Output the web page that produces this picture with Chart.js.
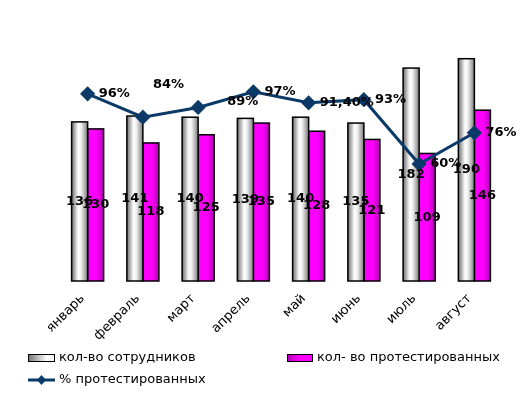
<!DOCTYPE html>
<html>
<head>
<meta charset="utf-8">
<script src="https://cdn.jsdelivr.net/npm/chart.js@4/dist/chart.umd.min.js"></script>
<style>
html,body{margin:0;padding:0;background:#fff;}
#wrap{width:529px;height:405px;}
</style>
</head>
<body>
<div id="wrap"><canvas id="c" width="529" height="405"></canvas></div>
<script>
const months = ["январь","февраль","март","апрель","май","июнь","июль","август"];
const employees = [136,141,140,139,140,135,182,190];
const tested = [130,118,125,135,128,121,109,146];
const pctTested = [0.96,0.84,0.89,0.97,0.914,0.93,0.60,0.76];
const pctLabels = ["96%","84%","89%","97%","91,40%","93%","60%","76%"];
const seriesNames = ["кол-во сотрудников","кол- во протестированных","% протестированных"];

const LINE_COLOR = "#0b3a68";
const FONT = "'DejaVu Sans', Verdana, sans-serif";
// label offsets from point (px), default to the right
const pctOffsets = [[11,0],[10,-33],[29,-6],[11,0],[11,0],[11,0],[11,0],[11,0]];

function grayGrad(ctx, x0, x1){
  const g = ctx.createLinearGradient(x0,0,x1,0);
  g.addColorStop(0,"#6c6c6c");
  g.addColorStop(0.42,"#ffffff");
  g.addColorStop(0.6,"#eeeeee");
  g.addColorStop(1,"#7c7c7c");
  return g;
}
function magGrad(ctx, x0, x1){
  const g = ctx.createLinearGradient(x0,0,x1,0);
  g.addColorStop(0,"#ff00ff");
  g.addColorStop(0.55,"#ff00ff");
  g.addColorStop(1,"#b400b4");
  return g;
}

const barStyler = {
  id:"barStyler",
  afterDatasetDraw(chart, args){
    const idx = args.index;
    if (idx > 1) return;
    const ctx = chart.ctx;
    const meta = args.meta;
    ctx.save();
    meta.data.forEach(el => {
      const p = el.getProps(["x","y","base","width"], true);
      const x0 = p.x - p.width/2, x1 = p.x + p.width/2;
      ctx.fillStyle = idx === 0 ? grayGrad(ctx,x0,x1) : magGrad(ctx,x0,x1);
      ctx.fillRect(x0, p.y, p.width, p.base - p.y);
      ctx.lineWidth = 1.5;
      ctx.strokeStyle = "#000";
      ctx.strokeRect(x0, p.y, p.width, p.base - p.y);
    });
    ctx.restore();
  },
  afterDatasetsDraw(chart){
    const ctx = chart.ctx;
    ctx.save();
    ctx.fillStyle = "#000";
    ctx.font = "bold 13px " + FONT;
    ctx.textBaseline = "middle";
    [0,1].forEach(di => {
      const meta = chart.getDatasetMeta(di);
      const data = chart.data.datasets[di].data;
      ctx.textAlign = "center";
      meta.data.forEach((el,i) => {
        const p = el.getProps(["x","y","base"], true);
        ctx.fillText(String(data[i]), p.x, (p.y + p.base)/2);
      });
    });
    const lm = chart.getDatasetMeta(2);
    ctx.textAlign = "left";
    lm.data.forEach((el,i) => {
      const p = el.getProps(["x","y"], true);
      const o = pctOffsets[i];
      ctx.fillText(pctLabels[i], p.x + o[0], p.y + o[1]);
    });
    ctx.restore();
  },
  afterDraw(chart){
    const ctx = chart.ctx;
    ctx.save();
    ctx.font = "13px " + FONT;
    ctx.fillStyle = "#000";
    ctx.textAlign = "left";
    ctx.textBaseline = "middle";
    let g = ctx.createLinearGradient(28,0,55,0);
    g.addColorStop(0,"#707070"); g.addColorStop(0.7,"#ffffff"); g.addColorStop(1,"#f0f0f0");
    ctx.fillStyle = g; ctx.fillRect(28,354,27,7);
    ctx.strokeStyle="#000"; ctx.lineWidth=1; ctx.strokeRect(28.5,354.5,26,7);
    ctx.fillStyle="#000"; ctx.fillText(seriesNames[0], 59, 358);
    g = ctx.createLinearGradient(287,0,313,0);
    g.addColorStop(0,"#b000b0"); g.addColorStop(0.5,"#ff00ff"); g.addColorStop(1,"#ff00ff");
    ctx.fillStyle = g; ctx.fillRect(287,354,26,7);
    ctx.strokeRect(287.5,354.5,25,7);
    ctx.fillStyle="#000"; ctx.fillText(seriesNames[1], 317, 358);
    ctx.strokeStyle = LINE_COLOR; ctx.lineWidth = 3;
    ctx.beginPath(); ctx.moveTo(28,380); ctx.lineTo(55,380); ctx.stroke();
    ctx.fillStyle = LINE_COLOR;
    ctx.beginPath(); ctx.moveTo(41.5,375); ctx.lineTo(46,380); ctx.lineTo(41.5,385); ctx.lineTo(37,380); ctx.closePath(); ctx.fill();
    ctx.fillStyle="#000"; ctx.fillText(seriesNames[2], 59, 380);
    ctx.restore();
  }
};

new Chart(document.getElementById("c"), {
  data: {
    labels: months,
    datasets: [
      {type:"bar", label:seriesNames[0], data:employees, yAxisID:"y", backgroundColor:"#cccccc", borderColor:"#000", borderWidth:1, order:2},
      {type:"bar", label:seriesNames[1], data:tested, yAxisID:"y", backgroundColor:"#ff00ff", borderColor:"#000", borderWidth:1, order:2},
      {type:"line", label:seriesNames[2], data:pctTested, yAxisID:"y1", borderColor:LINE_COLOR, backgroundColor:LINE_COLOR,
       borderWidth:3, pointStyle:"rectRot", pointRadius:5.5, pointHoverRadius:5.5, tension:0, fill:false, order:1}
    ]
  },
  options: {
    responsive:false,
    animation:false,
    events:[],
    layout:{padding:{left:60,right:27,top:47,bottom:64}},
    datasets:{bar:{barPercentage:1, categoryPercentage:0.58}},
    plugins:{legend:{display:false}, tooltip:{enabled:false}},
    scales:{
      x:{
        grid:{display:false}, border:{display:false},
        ticks:{color:"#000", font:{family:FONT, size:13}, maxRotation:45, minRotation:45, padding:2, labelOffset:-5},
        afterFit(scale){ scale.height = 60; }
      },
      y:{display:false, min:0, max:200},
      y1:{display:false, min:0, max:1.2, position:"right"}
    }
  },
  plugins:[barStyler]
});
</script>
</body>
</html>
